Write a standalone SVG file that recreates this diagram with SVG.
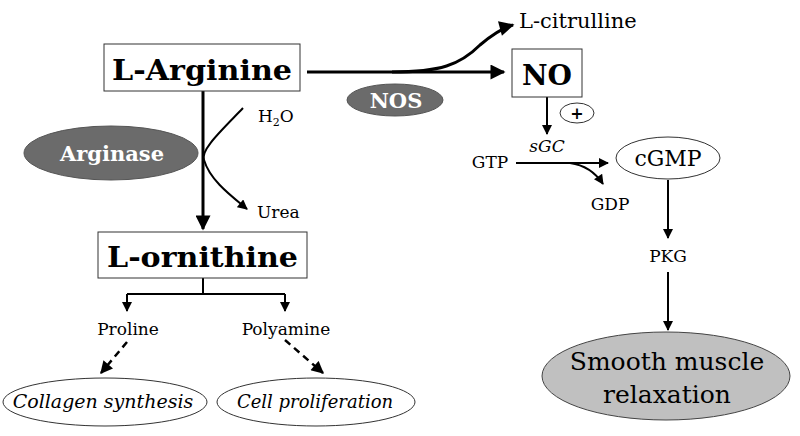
<svg xmlns="http://www.w3.org/2000/svg" width="800" height="436" viewBox="0 0 800 436">
<defs>
<style>
text{font-family:"DejaVu Serif","Liberation Serif",serif;fill:#000}
.box{fill:#fff;stroke:#333;stroke-width:1}
.big{font-weight:bold;font-size:28px}
.enz{fill:#6b6b6b;stroke:#555;stroke-width:1}
.enzt{font-weight:bold;fill:#fff;font-size:21px}
.lbl{font-size:17px}
.it{font-style:italic}
.c3{fill:none;stroke:#000;stroke-width:3}
.c2{fill:none;stroke:#000;stroke-width:2}
.dash{fill:none;stroke:#000;stroke-width:2.5;stroke-dasharray:7,5}
.oval{fill:#fff;stroke:#333;stroke-width:1}
</style>
<marker id="ah" viewBox="0 0 10 10" refX="9" refY="5" markerWidth="5.5" markerHeight="5" orient="auto" markerUnits="strokeWidth"><path d="M0,0 L10,5 L0,10 z" fill="#000"/></marker>
<marker id="ahs" viewBox="0 0 10 10" refX="9" refY="5" markerWidth="5.5" markerHeight="5" orient="auto" markerUnits="strokeWidth"><path d="M0,0 L10,5 L0,10 z" fill="#000"/></marker>
</defs>
<g id="connectors">
<path class="c3" d="M203,91 L203,229" marker-end="url(#ah)"/>
<path class="c2" d="M243,108 C222,130 200,150 204,160 C210,180 230,195 247,209" marker-end="url(#ahs)"/>
<path class="c3" d="M307,72 L504,72" marker-end="url(#ah)"/>
<path class="c3" d="M392,72 C440,72 460,65 480,45 C492,35 502,28 513,25" marker-end="url(#ah)"/>
<path class="c2" d="M203,278 L203,294 M127,294 L285,294"/>
<path class="c2" d="M127,294 L127,311" marker-end="url(#ahs)"/>
<path class="c2" d="M285,294 L285,311" marker-end="url(#ahs)"/>
<path class="dash" d="M127,342 L101,373" marker-end="url(#ahs)"/>
<path class="dash" d="M285,340 L323,373" marker-end="url(#ahs)"/>
<path class="c2" d="M547,97 L547,134" marker-end="url(#ahs)"/>
<path class="c2" d="M516,163 L608,163" marker-end="url(#ahs)"/>
<path class="c2" d="M570,163 C585,165 595,172 603,184" marker-end="url(#ahs)"/>
<path class="c2" d="M668,180 L668,238" marker-end="url(#ahs)"/>
<path class="c2" d="M668,272 L668,330" marker-end="url(#ahs)"/>
</g>
<g id="arginine"><rect class="box" x="104" y="44" width="196" height="47"/><text class="big" x="112" y="80" textLength="180" lengthAdjust="spacingAndGlyphs">L-Arginine</text></g>
<g id="arginase"><ellipse class="enz" cx="111" cy="153" rx="87" ry="27"/><text class="enzt" x="112" y="161" text-anchor="middle">Arginase</text></g>
<g id="h2o"><text class="lbl" x="258" y="122">H<tspan font-size="11" dy="4">2</tspan><tspan dy="-4">O</tspan></text></g>
<g id="urea"><text class="lbl" x="257" y="218">Urea</text></g>
<g id="ornithine"><rect class="box" x="98" y="232" width="209" height="46"/><text class="big" x="107" y="267" textLength="191" lengthAdjust="spacingAndGlyphs">L-ornithine</text></g>
<g id="proline"><text class="lbl" x="128" y="335" text-anchor="middle">Proline</text></g>
<g id="polyamine"><text class="lbl" x="286" y="335" text-anchor="middle">Polyamine</text></g>
<g id="collagen"><ellipse class="oval" cx="105" cy="402" rx="102" ry="24"/><text class="it" font-size="19" x="103" y="408" text-anchor="middle">Collagen synthesis</text></g>
<g id="prolif"><ellipse class="oval" cx="316" cy="402" rx="99" ry="24"/><text class="it" font-size="18" x="315" y="408" text-anchor="middle">Cell proliferation</text></g>
<g id="nos"><ellipse class="enz" cx="395" cy="100" rx="48" ry="16"/><text class="enzt" x="396" y="108" text-anchor="middle" font-size="23">NOS</text></g>
<g id="citrulline"><text x="519" y="28" font-size="21">L-citrulline</text></g>
<g id="no"><rect class="box" x="512" y="49" width="70" height="48"/><text class="big" x="547" y="85" text-anchor="middle" font-size="30">NO</text></g>
<g id="plus"><ellipse class="oval" cx="577" cy="113" rx="17" ry="10"/><text x="577" y="119" text-anchor="middle" font-size="16" font-weight="bold">+</text></g>
<g id="sgc"><text class="lbl it" x="547" y="152" text-anchor="middle">sGC</text></g>
<g id="gtp"><text class="lbl" x="490" y="168" text-anchor="middle">GTP</text></g>
<g id="gdp"><text class="lbl" x="610" y="210" text-anchor="middle">GDP</text></g>
<g id="cgmp"><ellipse class="oval" cx="668" cy="158" rx="52" ry="21"/><text x="668" y="166" text-anchor="middle" font-size="22">cGMP</text></g>
<g id="pkg"><text class="lbl" x="668" y="262" text-anchor="middle">PKG</text></g>
<g id="relax"><ellipse cx="666" cy="376" rx="124" ry="44" fill="#c0c0c0" stroke="#444" stroke-width="1"/><text x="667" y="370" text-anchor="middle" font-size="25">Smooth muscle</text><text x="667" y="403" text-anchor="middle" font-size="25">relaxation</text></g>
</svg>
